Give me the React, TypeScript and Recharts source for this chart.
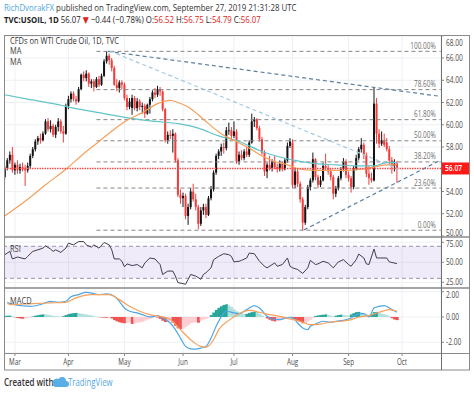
import React from 'react';
import { ComposedChart, Bar, Line, XAxis, YAxis, CartesianGrid, ReferenceLine, ReferenceArea, Cell } from 'recharts';

const FIRST_BAR = -4;
// [open, high, low, close] per daily bar, index -4 (Feb 25) .. 150 (Sep 27)
const candles: [number, number, number, number][] = [
  [55.3,56.3,55.1,56.1],[56.1,57.0,55.9,56.8],[56.8,57.6,56.5,57.3],[57.3,58.0,55.7,55.9],
  [55.9,56.6,55.5,56.4],[56.4,56.8,55.6,55.9],[55.9,56.5,55.6,56.2],[56.2,56.6,55.8,56.0],[56.0,56.4,54.5,55.9],
  [55.9,56.6,55.7,56.3],[56.3,57.4,56.1,57.2],[57.2,58.0,57.0,57.8],[57.8,58.7,57.6,58.5],[58.5,59.0,58.2,58.8],
  [58.8,59.2,58.3,58.6],[58.6,59.4,58.5,59.2],[59.2,60.5,59.1,60.3],[60.3,60.6,59.4,59.6],[59.6,60.4,59.3,59.9],
  [59.9,60.1,58.9,59.1],[59.1,60.0,58.8,59.8],[59.8,60.6,59.4,60.3],[60.3,60.5,59.2,59.4],[59.4,59.9,58.4,59.2],
  [59.2,61.9,59.1,61.7],[61.7,62.6,61.4,62.3],[62.3,63.0,62.0,62.8],[62.8,63.0,62.1,62.3],[62.3,62.6,61.8,62.1],
  [62.1,63.4,62.0,63.2],[63.2,64.6,63.1,64.5],[64.5,64.8,63.9,64.2],[64.2,64.9,63.9,64.6],[64.6,64.7,63.4,63.7],
  [63.7,64.1,63.3,63.9],[63.9,64.1,63.0,63.4],[63.4,64.3,63.3,64.1],[64.1,64.4,63.4,63.6],[63.6,64.6,63.5,64.4],
  [64.4,65.9,64.3,65.7],[65.7,66.6,65.5,66.2],[66.2,66.4,65.4,65.8],[65.8,66.0,64.8,65.1],[65.1,65.3,63.5,63.6],
  [63.6,64.1,63.0,63.3],[63.3,64.0,62.9,63.8],[63.8,64.0,63.2,63.6],[63.6,63.8,62.2,62.4],[62.4,62.7,61.3,61.6],
  [61.6,62.4,61.4,62.1],[61.5,62.7,60.9,62.4],[62.4,62.6,61.3,61.5],[61.5,62.4,61.2,62.1],[62.1,62.3,61.3,61.6],
  [61.6,62.0,61.0,61.7],[61.7,61.9,60.6,61.0],[61.0,61.9,60.9,61.8],[61.8,62.5,61.0,62.3],[62.3,63.1,62.1,62.9],
  [62.9,63.3,62.4,62.7],[62.7,63.5,62.5,63.2],[63.2,63.4,62.6,63.0],[63.0,63.1,61.2,61.4],[61.4,61.5,58.4,58.6],
  [58.6,59.4,58.3,59.1],[59.1,59.5,58.7,59.0],[59.0,59.6,57.5,59.2],[59.2,59.3,56.6,56.8],[56.8,57.0,53.5,53.7],
  [53.7,54.2,52.9,53.4],[53.4,53.9,52.6,53.6],[53.6,53.8,51.5,51.8],[51.8,52.9,51.0,52.6],[52.6,54.3,52.4,54.0],
  [54.0,54.7,53.1,53.3],[53.3,53.8,52.3,52.6],[52.6,52.8,50.6,51.1],[51.1,52.6,50.9,52.3],[52.3,52.9,51.9,52.6],
  [52.6,52.9,51.6,51.9],[51.9,53.6,51.8,53.4],[53.4,54.5,53.2,54.2],[54.2,55.9,54.0,55.7],[55.7,57.4,55.5,57.2],
  [57.2,57.8,56.9,57.6],[57.6,58.3,57.2,58.0],[58.0,58.4,57.4,57.9],[57.9,59.8,57.7,59.5],[59.5,60.2,59.1,59.5],
  [59.5,59.8,58.7,59.0],[59.0,60.3,58.8,59.4],[59.4,59.6,56.5,56.7],[56.7,57.6,56.4,57.3],[57.3,57.7,56.8,57.0],
  [57.0,57.8,56.8,57.6],[57.6,58.0,57.1,57.3],[57.3,58.6,57.1,58.4],[58.4,61.0,58.3,60.3],[60.3,60.7,59.8,60.5],
  [60.5,60.6,59.5,59.7],[59.7,59.9,58.5,58.7],[58.7,58.9,57.3,57.5],[57.5,57.7,55.4,55.8],[55.8,56.6,55.2,56.4],
  [56.4,57.2,55.9,56.1],[56.1,56.9,55.8,56.7],[56.7,57.2,56.0,56.2],[56.2,56.5,55.7,56.0],[56.0,56.8,55.8,56.5],
  [56.5,56.7,55.8,56.0],[56.0,57.0,55.9,56.8],[56.8,58.4,56.6,58.1],[58.1,58.8,57.9,58.5],[58.4,58.7,54.3,54.6],
  [54.6,56.1,54.3,55.8],[55.8,56.0,54.4,54.7],[54.7,54.9,53.0,53.3],[53.3,53.5,50.5,51.2],[51.2,52.8,51.0,52.6],
  [52.6,54.6,52.4,54.4],[54.4,55.2,54.1,55.0],[55.0,57.5,54.8,56.9],[56.9,57.0,55.0,55.3],[55.3,55.5,54.3,54.6],
  [54.6,55.4,54.4,55.0],[55.0,56.6,54.9,56.3],[56.3,57.4,55.9,56.1],[56.1,56.4,55.5,55.8],[55.8,56.1,55.0,55.3],
  [55.3,55.5,53.3,53.8],[53.8,54.5,53.5,54.3],[54.3,55.4,54.1,55.2],[55.2,56.2,55.0,56.0],[56.0,57.0,55.8,56.7],
  [56.7,56.9,55.2,55.5],[55.5,55.8,54.9,55.2],[55.2,55.4,53.9,54.4],[54.4,56.3,54.2,56.1],[56.1,57.3,55.9,57.0],
  [57.0,58.0,56.8,57.8],[57.8,58.8,57.5,58.2],[58.2,58.4,56.9,57.3],[57.3,57.5,55.3,55.6],[55.6,56.3,54.6,55.2],
  [55.2,55.7,54.8,55.0],[55.0,63.4,54.9,61.9],[61.9,62.4,58.3,59.2],[59.2,59.6,57.9,58.3],[58.3,59.4,58.1,58.6],
  [58.6,59.2,58.0,58.2],[58.4,58.8,57.6,57.8],[57.8,58.1,56.4,56.8],[56.8,57.1,55.6,56.3],[56.3,56.9,55.8,56.5],
  [56.52,56.75,54.79,56.07],
];

// MACD histogram per bar, index -4 .. 150
const macdHistogram: number[] = [
  0.08, 0.10, 0.10, 0.06,
  -0.03, -0.08, -0.12, -0.14, -0.13, -0.10, -0.05, 0.05, 0.10, 0.14,
  0.18, 0.20, 0.19, 0.17, 0.14, 0.08, 0.06, 0.05, 0.03, 0.06,
  0.15, 0.22, 0.27, 0.30, 0.32, 0.30, 0.26, 0.22, 0.18, 0.15,
  0.12, 0.06, 0.02, -0.02, -0.04, -0.05, -0.06, -0.04, -0.12, -0.25,
  -0.35, -0.42, -0.47, -0.50, -0.45, -0.42, -0.55, -0.50, -0.45, -0.42,
  -0.38, -0.30, -0.22, -0.15, -0.08, -0.03, -0.05, -0.15, -0.30, -0.40,
  -0.35, -0.30, -0.45, -0.70, -0.90, -0.95, -0.92, -0.80, -0.65, -0.50,
  -0.45, -0.42, -0.45, -0.30, -0.20, -0.15, -0.05, 0.15, 0.35, 0.55,
  0.72, 0.85, 0.95, 1.00, 0.90, 0.78, 0.60, 0.45, 0.35, 0.28,
  0.22, 0.25, 0.32, 0.38, 0.40, 0.38, 0.25, 0.12, 0.02, -0.12,
  -0.22, -0.30, -0.35, -0.32, -0.28, -0.22, -0.12, -0.05, 0.02, -0.10,
  -0.20, -0.30, -0.40, -0.50, -0.48, -0.35, -0.22, -0.10, 0.08, 0.12,
  0.15, 0.18, 0.20, 0.15, 0.10, 0.05, 0.10, 0.15, 0.18, 0.16,
  0.12, 0.10, 0.20, 0.30, 0.38, 0.40, 0.35, 0.28, 0.20, 0.15,
  0.20, 0.38, 0.40, 0.32, 0.25, 0.20, 0.15, 0.05, -0.10, -0.20, -0.25,
];

// [bar index, value] readings
const tealMA: [number, number][] = [
  [-4,62.7],[5,62.3],[15,61.9],[25,61.4],[35,61.0],[45,60.6],[55,60.3],[64,60.1],[72,59.7],[80,59.0],
  [88,58.5],[97,57.6],[104,57.1],[110,56.8],[118,56.5],[126,56.4],[134,56.3],[141,56.3],[146,56.6],[150,56.6],
];
const orangeMA: [number, number][] = [
  [-4,51.8],[5,53.3],[12,54.6],[20,56.0],[27,57.4],[33,58.5],[39,59.6],[44,60.4],[50,61.1],[56,61.9],
  [61,62.2],[64,62.0],[68,61.6],[72,60.9],[76,60.1],[81,59.2],[86,58.6],[92,57.9],[97,57.2],[102,56.7],
  [107,56.4],[112,56.0],[118,55.9],[124,55.9],[130,55.9],[136,56.0],[141,56.2],[146,56.4],[150,56.4],
];
const rsiPoints: [number, number][] = [
  [-4,59.5],[-2,63.6],[-1,54.2],[1,56.6],[4,54.2],[5,57.4],[7,63.6],[9,65.6],[11,67.7],[12,70.6],
  [14,66.5],[15,63.6],[16,65.6],[18,62.4],[20,67.7],[21,73.9],[23,71.8],[25,75.9],[27,75.9],[28,71.8],
  [30,68.9],[31,71.8],[33,67.7],[35,74.7],[37,71.8],[38,65.6],[39,54.2],[41,54.2],[42,51.3],[43,44.3],
  [44,48.0],[46,45.9],[48,47.2],[50,43.1],[51,49.2],[53,55.4],[55,54.2],[57,47.2],[58,34.8],[60,39.0],
  [62,39.0],[63,32.8],[64,24.6],[66,23.4],[67,22.5],[68,28.7],[69,34.8],[71,32.8],[73,28.7],[74,34.8],
  [75,36.9],[77,43.1],[78,53.3],[80,57.4],[82,60.7],[84,59.5],[85,57.4],[86,50.5],[88,51.3],[89,52.5],
  [91,55.4],[92,61.5],[94,60.7],[96,51.3],[98,45.1],[99,43.1],[102,49.2],[103,45.1],[105,47.2],[107,55.4],
  [108,45.1],[109,43.1],[111,41.0],[113,36.1],[115,43.1],[116,52.5],[118,47.2],[119,48.0],[121,51.3],[123,49.2],
  [125,43.1],[127,50.5],[129,53.3],[131,47.2],[132,45.1],[134,53.3],[135,60.3],[137,55.4],[138,48.0],[139,47.2],
  [141,66.5],[142,55.4],[143,55.4],[146,55.4],[147,50.5],[150,48.4],
];
const macdLine: [number, number][] = [
  [-3,1.16],[-2,1.06],[6,0.84],[10,0.98],[14,1.24],[17,1.16],[20,1.24],[22,1.59],[25,1.77],[28,1.95],
  [31,1.85],[33,1.77],[36,1.82],[39,1.64],[41,1.24],[43,0.71],[45,0.45],[48,0.32],[50,0.18],[53,0.0],
  [56,0.1],[58,-0.08],[61,-0.48],[63,-1.0],[65,-1.67],[67,-2.33],[69,-2.52],[71,-2.54],[73,-2.46],[75,-2.33],
  [77,-1.67],[79,-0.74],[81,0.0],[83,0.45],[86,0.32],[88,0.26],[91,0.58],[94,0.9],[96,0.71],[99,0.05],
  [101,-0.16],[104,-0.21],[107,-0.08],[109,-0.08],[111,-0.48],[113,-0.87],[115,-1.0],[116,-0.74],[118,-0.56],[121,-0.34],
  [124,-0.42],[126,-0.34],[129,-0.27],[132,-0.08],[134,0.18],[137,0.26],[139,0.0],[141,0.71],[143,0.84],[145,0.9],
  [147,0.71],[150,0.37],
];
const signalLine: [number, number][] = [
  [-3,1.11],[-2,0.98],[7,1.06],[14,1.11],[20,1.16],[24,1.51],[30,1.77],[33,1.77],[37,1.77],[41,1.37],
  [45,0.84],[49,0.45],[53,0.18],[57,0.05],[61,-0.21],[65,-1.0],[69,-1.8],[73,-2.33],[75,-2.38],[78,-1.8],
  [80,-1.0],[84,-0.27],[88,0.26],[92,0.52],[96,0.37],[100,0.18],[104,0.05],[108,-0.16],[112,-0.34],[116,-0.61],
  [120,-0.56],[124,-0.4],[128,-0.34],[132,-0.21],[135,0.0],[139,0.1],[143,0.37],[147,0.58],[150,0.45],
];

const monthTicks = [0, 21, 43, 66, 86, 109, 131, 152];
const monthLabels = ['Mar', 'Apr', 'May', 'Jun', 'Jul', 'Aug', 'Sep', 'Oct'];
const priceTicks = [50, 52, 54, 58, 60, 62, 64, 66, 68];
const rsiTicks = [25, 50, 75];
const macdTicks = [-2, 0, 2];
const fibLevels: { label: string; price: number }[] = [
  { label: '100.00%', price: 66.6 },
  { label: '78.60%', price: 63.16 },
  { label: '61.80%', price: 60.46 },
  { label: '50.00%', price: 58.56 },
  { label: '38.20%', price: 56.66 },
  { label: '23.60%', price: 54.31 },
  { label: '0.00%', price: 50.52 },
];
const FIB_START = 32;
const trendLines: { from: [number, number]; to: [number, number]; color: string }[] = [
  { from: [36.5, 66.6], to: [167.2, 62.55], color: '#5f7f9e' },
  { from: [37.3, 66.63], to: [152, 55.9], color: '#a7c8e0' },
  { from: [113.5, 50.55], to: [167.2, 56.83], color: '#5f7f9e' },
];
const lastPrice = 56.07;

const X_DOMAIN: [number, number] = [-4.3, 167.3];
const FONT = "'Open Sans', 'DejaVu Sans', sans-serif";

type Row = { i: number; o: number; h: number; l: number; c: number; hist: number; [k: string]: number };
const rows: Row[] = candles.map((k, n) => ({ i: FIRST_BAR + n, o: k[0], h: k[1], l: k[2], c: k[3], hist: macdHistogram[n] }));
const byIndex = new Map<number, Row>(rows.map((r) => [r.i, r]));
const attach = (pts: [number, number][], key: string) =>
  pts.forEach(([i, v]) => {
    const r = byIndex.get(i);
    if (r) r[key] = v;
  });
attach(tealMA, 'teal');
attach(orangeMA, 'orange');
attach(rsiPoints, 'rsi');
attach(macdLine, 'macd');
attach(signalLine, 'signal');

const histColor = (v: number, prev: number) =>
  v >= 0 ? (v >= prev ? '#26a69a' : '#b2dfdb') : v <= prev ? '#ef5350' : '#ffcdd2';

const SText = ({ x, y, children, size = 8.5, sx = 0.78, anchor = 'start', fill = '#4a4a4a', weight = 400 }: any) => (
  <text transform={`translate(${x},${y}) scale(${sx},1)`} fontSize={size} textAnchor={anchor} fill={fill} fontWeight={weight} fontFamily={FONT}>
    {children}
  </text>
);

const CandleShape = (props: any) => {
  const { x, y, width, height, payload } = props;
  if (!payload || payload.o == null) return null;
  const { o, h, l, c } = payload;
  const cx = x + width / 2;
  const span = h - l;
  const k = span > 0 ? height / span : 0;
  const yTop = y + (h - Math.max(o, c)) * k;
  const yBot = y + (h - Math.min(o, c)) * k;
  const col = c >= o ? '#141414' : '#f23b3b';
  return (
    <g>
      <line x1={cx} x2={cx} y1={y} y2={y + height} stroke={col} strokeWidth={1} />
      <rect x={cx - 1} y={yTop} width={2} height={Math.max(yBot - yTop, 0.8)} fill={col} />
    </g>
  );
};

const YTick = (props: any) => {
  const { x, y, payload, paneH } = props;
  const yy = Math.min(Math.max(y, 6.5), (paneH || 1000) - 4.5);
  return <SText x={x} y={yy + 3}>{Number(payload.value).toFixed(2)}</SText>;
};
const MonthTick = (props: any) => {
  const { x, y, payload } = props;
  const idx = monthTicks.indexOf(payload.value);
  return <SText x={x} y={y + 7} anchor="middle" sx={0.74}>{monthLabels[idx]}</SText>;
};

const W = 466;
const common = { width: W, data: rows, margin: { top: 0, right: 0, bottom: 0, left: 0 } };
const grid = <CartesianGrid stroke="#edf0f5" />;
const yAxisBase = {
  orientation: 'right' as const,
  width: 29,
  axisLine: false,
  tickSize: 3,
  tickLine: { stroke: '#888' },
  allowDataOverflow: true,
  interval: 0 as const,
};

export default function App() {
  return (
    <div style={{ position: 'absolute', left: 0, top: 0, width: 474, height: 394, background: '#fff', overflow: 'hidden' }}>
      {/* Price pane */}
      <div style={{ position: 'absolute', left: 4, top: 36 }}>
        <ComposedChart {...common} height={201}>
          {grid}
          <XAxis dataKey="i" type="number" domain={X_DOMAIN} allowDataOverflow ticks={monthTicks} hide />
          <YAxis {...yAxisBase} domain={[49.91, 67.98]} ticks={priceTicks} tick={<YTick paneH={201} />} />
          {fibLevels.map((f) => (
            <ReferenceLine
              key={f.label}
              segment={[{ x: FIB_START, y: f.price }, { x: 167.2, y: f.price }]}
              stroke="#858585"
              strokeDasharray="4 3"
              label={(p: any) => {
                const vb = p.viewBox || {};
                return <SText x={(vb.x || 0) + (vb.width || 0) - 5} y={(vb.y || 0) - 2.5} anchor="end" fill="#6e6e6e" size={8.5} sx={0.76}>{f.label}</SText>;
              }}
            />
          ))}
          <Line dataKey="teal" type="monotone" stroke="#62c4c8" strokeWidth={1.2} dot={false} connectNulls isAnimationActive={false} />
          <Line dataKey="orange" type="monotone" stroke="#f5a05b" strokeWidth={1.2} dot={false} connectNulls isAnimationActive={false} />
          <ReferenceLine
            y={lastPrice}
            stroke="#ff4a4a"
            strokeDasharray="1.5 1"
            strokeWidth={1.5}
            label={(p: any) => {
              const vb = p.viewBox || {};
              const x0 = (vb.x || 0) + (vb.width || 0);
              const y0 = vb.y || 0;
              return (
                <g>
                  <rect x={x0} y={y0 - 6} width={29} height={12} fill="#ff1a1a" />
                  <SText x={x0 + 4} y={y0 + 3} fill="#fff" weight={600}>{lastPrice.toFixed(2)}</SText>
                </g>
              );
            }}
          />
          <Bar dataKey={(d: Row) => [d.l, d.h]} shape={<CandleShape />} isAnimationActive={false} />
          {trendLines.map((t, n) => (
            <ReferenceLine key={n} segment={[{ x: t.from[0], y: t.from[1] }, { x: t.to[0], y: t.to[1] }]} stroke={t.color} strokeDasharray="4 3" strokeWidth={1.2} />
          ))}
        </ComposedChart>
      </div>

      {/* RSI pane */}
      <div style={{ position: 'absolute', left: 4, top: 237 }}>
        <ComposedChart {...common} height={51}>
          {grid}
          <XAxis dataKey="i" type="number" domain={X_DOMAIN} allowDataOverflow ticks={monthTicks} hide />
          <YAxis {...yAxisBase} domain={[17.9, 81.6]} ticks={rsiTicks} tick={<YTick paneH={51} />} />
          <ReferenceArea y1={30} y2={70} fill="#7e57c2" fillOpacity={0.12} stroke="none" />
          <ReferenceLine y={70} stroke="#a090b5" strokeDasharray="4 3" />
          <ReferenceLine y={30} stroke="#a090b5" strokeDasharray="4 3" />
          <Line dataKey="rsi" type="linear" stroke="#443c52" strokeWidth={1} dot={false} connectNulls isAnimationActive={false} />
        </ComposedChart>
      </div>

      {/* MACD pane + time axis */}
      <div style={{ position: 'absolute', left: 4, top: 288 }}>
        <ComposedChart {...common} height={82} barCategoryGap={0}>
          {grid}
          <XAxis dataKey="i" type="number" domain={X_DOMAIN} allowDataOverflow ticks={monthTicks} interval={0} height={17} tickSize={3} tickLine={{ stroke: '#888' }} axisLine={false} tick={<MonthTick />} />
          <YAxis {...yAxisBase} domain={[-2.85, 2.29]} ticks={macdTicks} tick={<YTick paneH={65} />} />
          <Bar dataKey="hist" isAnimationActive={false}>
            {rows.map((r, n) => (
              <Cell key={r.i} fill={histColor(r.hist, n > 0 ? rows[n - 1].hist : 0)} />
            ))}
          </Bar>
          <Line dataKey="macd" type="monotone" stroke="#4ea6e6" strokeWidth={1.2} dot={false} connectNulls isAnimationActive={false} />
          <Line dataKey="signal" type="monotone" stroke="#f5a05b" strokeWidth={1.2} dot={false} connectNulls isAnimationActive={false} />
        </ComposedChart>
      </div>

      {/* chrome overlay */}
      <svg width={474} height={394} style={{ position: 'absolute', left: 0, top: 0, pointerEvents: 'none' }}>
        <text transform="translate(4,10.5) scale(0.875,1)" fontSize={9} fontFamily={FONT} fill="#333">
          <tspan fill="#4fa6e0">RichDvorakFX</tspan> published on TradingView.com, September 27, 2019 21:31:28 UTC
        </text>
        <text transform="translate(4,23) scale(0.87,1)" fontSize={9} fontFamily={FONT} fill="#222">
          <tspan fontWeight={700}>TVC:USOIL, 1D</tspan> 56.07 <tspan fill="#e02020">▼</tspan> −0.44 (−0.78%) O:<tspan fill="#e02020">56.52</tspan> H:<tspan fill="#e02020">56.75</tspan> L:<tspan fill="#e02020">54.79</tspan> C:<tspan fill="#e02020">56.07</tspan>
        </text>
        <rect x={4.5} y={35.5} width={465} height={334.5} fill="none" stroke="#8a8a8a" />
        <line x1={4} x2={470} y1={237} y2={237} stroke="#8a8a8a" strokeWidth={1.5} />
        <line x1={4} x2={470} y1={288} y2={288} stroke="#8a8a8a" strokeWidth={1.5} />
        <line x1={4} x2={470} y1={353.5} y2={353.5} stroke="#8a8a8a" />
        <line x1={441.5} x2={441.5} y1={36} y2={370} stroke="#6f6f6f" />
        <SText x={10} y={43.5} size={8.5} sx={0.88} fill="#333">CFDs on WTI Crude Oil, 1D, TVC</SText>
        <SText x={10} y={54} size={8.5} sx={0.88} fill="#444">MA</SText>
        <SText x={10} y={64.5} size={8.5} sx={0.88} fill="#444">MA</SText>
        <SText x={10} y={251.5} size={8.5} sx={0.88} fill="#444">RSI</SText>
        <SText x={10} y={303.5} size={8.5} sx={0.88} fill="#444">MACD</SText>
        <SText x={4} y={386} size={10} sx={0.8} weight={600} fill="#333">Created with</SText>
        <path d="M55 387 h11 a3 3 0 0 0 0-6 a4 4 0 0 0-7.5-2 a3.2 3.2 0 0 0-3.5 8z" fill="#5aaee6" />
        <SText x={68} y={386} size={10} sx={0.78} fill="#55a8df">TradingView</SText>
      </svg>
    </div>
  );
}
